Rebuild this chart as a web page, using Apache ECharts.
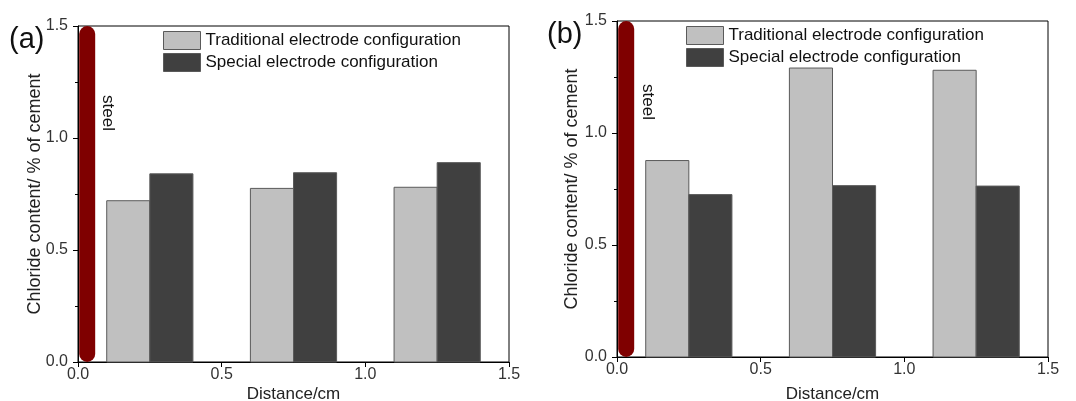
<!DOCTYPE html>
<html>
<head>
<meta charset="utf-8">
<script src="https://cdn.jsdelivr.net/npm/echarts@6/dist/echarts.min.js"></script>
<style>
  html, body { margin: 0; padding: 0; background: #fff; }
  #main { width: 1076px; height: 401px; }
</style>
</head>
<body>
<div id="main"></div>
<script>
// 数据
var seriesNames = ['Traditional electrode configuration', 'Special electrode configuration'];
var tradStart = [0.1, 0.6, 1.1];
var specStart = [0.25, 0.75, 1.25];
var binWidth = 0.15;
var tradA = [0.72, 0.775, 0.78];
var specA = [0.84, 0.845, 0.89];
var tradB = [0.877, 1.29, 1.28];
var specB = [0.725, 0.765, 0.763];
var steelX = 0.032;
var steelY = [0.036, 1.464];
var tickLabels = ['0.0', '0.5', '1.0', '1.5'];

function bins(starts, vals) {
    return vals.map(function (v, i) { return [starts[i], starts[i] + binWidth, v]; });
}

function renderBin(params, api) {
    var p0 = api.coord([api.value(0), api.value(2)]);
    var p1 = api.coord([api.value(1), 0]);
    return {
        type: 'rect',
        shape: { x: p0[0], y: p0[1], width: p1[0] - p0[0], height: p1[1] - p0[1] },
        style: { fill: api.visual('color'), stroke: '#5a5a5a', lineWidth: 1 }
    };
}

var colors = ['#c0c0c0', '#404040'];
var fmt = function (v) { return tickLabels[Math.round(v * 2)]; };

function xAx(i, gap) {
    return {
        type: 'value', gridIndex: i, min: 0, max: 1.5, interval: 0.5,
        name: 'Distance/cm', nameLocation: 'middle', nameGap: gap, nameMoveOverlap: false,
        nameTextStyle: { fontSize: 17, color: '#222', fontFamily: 'Liberation Sans' },
        axisLine: { lineStyle: { color: '#000' } },
        axisTick: { length: 5, lineStyle: { color: '#000' } },
        axisLabel: { fontSize: 16, color: '#333', margin: 5, fontFamily: 'Liberation Sans', formatter: fmt },
        splitLine: { show: false }
    };
}
function yAx(i, gap) {
    return {
        type: 'value', gridIndex: i, min: 0, max: 1.5, interval: 0.5,
        name: 'Chloride content/ % of cement', nameLocation: 'middle', nameGap: gap, nameMoveOverlap: false,
        nameTextStyle: { fontSize: 18, color: '#222', fontFamily: 'Liberation Sans' },
        axisLine: { lineStyle: { color: '#000' } },
        axisTick: { length: 5, lineStyle: { color: '#000' } },
        minorTick: { show: true, splitNumber: 2, length: 3, lineStyle: { color: '#000' } },
        axisLabel: { fontSize: 16, color: '#333', margin: 10, fontFamily: 'Liberation Sans', formatter: fmt },
        splitLine: { show: false }
    };
}
function legendAt(left, top) {
    return {
        left: left, top: top, orient: 'vertical', icon: 'rect',
        itemWidth: 37, itemHeight: 18, itemGap: 3,
        textStyle: { fontSize: 17, color: '#111', fontFamily: 'Liberation Sans' },
        selectedMode: false, padding: 0,
        data: seriesNames.map(function (n, k) {
            return { name: n, itemStyle: { color: colors[k], borderColor: '#5a5a5a', borderWidth: 1 } };
        })
    };
}
function steel(i) {
    return {
        type: 'line', xAxisIndex: i, yAxisIndex: i, symbol: 'none', silent: true,
        data: [[steelX, steelY[0]], [steelX, steelY[1]]],
        lineStyle: { color: '#7f0000', width: 16, cap: 'round' }, z: 3
    };
}
function binSeries(i, k, starts, vals) {
    return {
        type: 'custom', name: seriesNames[k], xAxisIndex: i, yAxisIndex: i,
        renderItem: renderBin, itemStyle: { color: colors[k] },
        encode: { x: [0, 1], y: 2 }, data: bins(starts, vals)
    };
}

var myChart = echarts.init(document.getElementById('main'));
myChart.setOption({
    animation: false,
    grid: [
        { left: 78, top: 26, width: 431, height: 336, show: true, borderColor: '#000', borderWidth: 1, containLabel: false, outerBoundsMode: 'none' },
        { left: 617, top: 21, width: 431, height: 336, show: true, borderColor: '#000', borderWidth: 1, containLabel: false, outerBoundsMode: 'none' }
    ],
    xAxis: [xAx(0, 24), xAx(1, 29)],
    yAxis: [yAx(0, 34), yAx(1, 36)],
    legend: [legendAt(163, 31), legendAt(686, 26)],
    graphic: [
        { type: 'text', left: 9, top: 25, style: { text: '(a)', fontSize: 29, fill: '#111', fontFamily: 'Liberation Sans' } },
        { type: 'text', left: 547, top: 20, style: { text: '(b)', fontSize: 29, fill: '#111', fontFamily: 'Liberation Sans' } },
        { type: 'text', x: 116, y: 95, rotation: -Math.PI / 2, style: { text: 'steel', fontSize: 17, fill: '#111', fontFamily: 'Liberation Sans' } },
        { type: 'text', x: 656, y: 84, rotation: -Math.PI / 2, style: { text: 'steel', fontSize: 17, fill: '#111', fontFamily: 'Liberation Sans' } }
    ],
    series: [
        steel(0), steel(1),
        binSeries(0, 0, tradStart, tradA), binSeries(0, 1, specStart, specA),
        binSeries(1, 0, tradStart, tradB), binSeries(1, 1, specStart, specB)
    ]
});
</script>
</body>
</html>
